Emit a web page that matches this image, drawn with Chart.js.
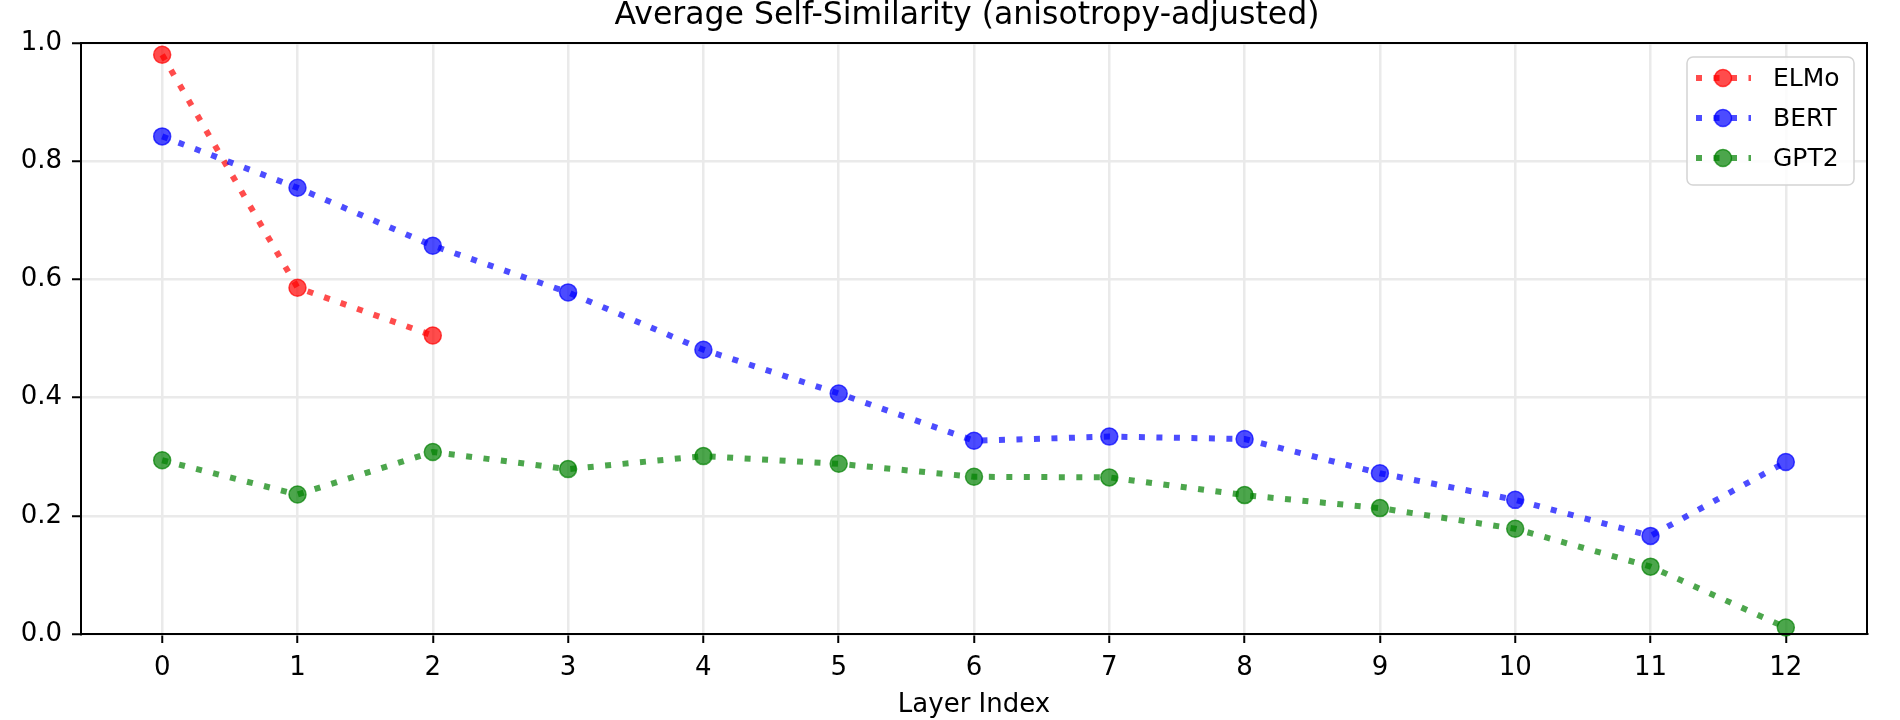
<!DOCTYPE html>
<html>
<head>
<meta charset="utf-8">
<title>Average Self-Similarity</title>
<script src="https://cdn.jsdelivr.net/npm/chart.js@4.4.1/dist/chart.umd.min.js"></script>
<style>
    html, body { margin: 0; padding: 0; background: #fff; }
    #wrap { width: 1900px; height: 720px; }
</style>
</head>
<body>
<div id="wrap"><canvas id="selfSimChart" width="1900" height="720"></canvas></div>
<script>
// DATA
const layers = [0, 1, 2, 3, 4, 5, 6, 7, 8, 9, 10, 11, 12];
const yTicks = [0.0, 0.2, 0.4, 0.6, 0.8, 1.0];
const elmoValues = [0.980, 0.586, 0.505];
const bertValues = [0.842, 0.755, 0.657, 0.578, 0.481, 0.407, 0.327, 0.334, 0.330, 0.272, 0.227, 0.166, 0.291];
const gpt2Values = [0.294, 0.236, 0.308, 0.279, 0.301, 0.288, 0.266, 0.265, 0.235, 0.213, 0.178, 0.114, 0.011];
const seriesNames = ['ELMo', 'BERT', 'GPT2'];
const seriesColors = ['rgba(255,0,0,0.7)', 'rgba(0,0,255,0.7)', 'rgba(0,128,0,0.7)'];
const chartTitle = 'Average Self-Similarity (anisotropy-adjusted)';

const FONT = "'DejaVu Sans', 'Liberation Sans', sans-serif";
const LINE_W = 6;
const DASH = [6, 11.5];

function toPoints(values) {
    return values.map((v, i) => ({ x: layers[i], y: v }));
}

function makeDataset(idx, values, order) {
    return {
        label: seriesNames[idx],
        data: toPoints(values),
        borderColor: seriesColors[idx],
        backgroundColor: seriesColors[idx],
        pointBackgroundColor: seriesColors[idx],
        pointBorderColor: seriesColors[idx],
        pointBorderWidth: 1.5,
        pointRadius: 8.5,
        borderWidth: LINE_W,
        borderDash: DASH,
        borderCapStyle: 'butt',
        tension: 0,
        clip: false,
        order: order
    };
}

// frame round the plot (matplotlib spines) + title centred over the axes
const framePlugin = {
    id: 'frame',
    afterDatasetsDraw(chart) {
        const { ctx, chartArea: a } = chart;
        ctx.save();
        ctx.strokeStyle = '#000';
        ctx.lineWidth = 2;
        ctx.strokeRect(a.left, a.top, a.right - a.left, a.bottom - a.top);
        ctx.fillStyle = '#000';
        ctx.font = '31.5px ' + FONT;
        ctx.textAlign = 'center';
        ctx.textBaseline = 'middle';
        ctx.fillText(chartTitle, (a.left + a.right) / 2 - 7, 15.5);
        ctx.restore();
    }
};

// legend box drawn like matplotlib's (line + marker handle)
const legendPlugin = {
    id: 'mplLegend',
    afterDraw(chart) {
        const { ctx } = chart;
        const box = { x: 1687, y: 57, w: 167, h: 128 };
        ctx.save();
        ctx.beginPath();
        ctx.roundRect(box.x, box.y, box.w, box.h, 6);
        ctx.fillStyle = 'rgba(255,255,255,0.85)';
        ctx.fill();
        ctx.strokeStyle = '#d4d4d4';
        ctx.lineWidth = 1.5;
        ctx.stroke();

        chart.data.datasets.forEach((ds, i) => {
            const y = 78 + i * 40;
            ctx.strokeStyle = ds.borderColor;
            ctx.lineWidth = LINE_W;
            ctx.setLineDash(DASH);
            ctx.beginPath();
            ctx.moveTo(1696, y);
            ctx.lineTo(1751, y);
            ctx.stroke();
            ctx.setLineDash([]);
            ctx.beginPath();
            ctx.arc(1723, y, 8.5, 0, Math.PI * 2);
            ctx.fillStyle = ds.pointBackgroundColor;
            ctx.fill();
            ctx.lineWidth = 1.5;
            ctx.stroke();
            ctx.fillStyle = '#000';
            ctx.font = '25px ' + FONT;
            ctx.textAlign = 'left';
            ctx.textBaseline = 'middle';
            ctx.fillText(ds.label, 1773, y + 1);
        });
        ctx.restore();
    }
};

const ctx = document.getElementById('selfSimChart').getContext('2d');
const chart = new Chart(ctx, {
    type: 'line',
    data: {
        datasets: [
            makeDataset(0, elmoValues, 2),
            makeDataset(1, bertValues, 1),
            makeDataset(2, gpt2Values, 0)
        ]
    },
    options: {
        responsive: false,
        animation: false,
        devicePixelRatio: 1,
        layout: { padding: { left: 0, right: 33, top: 43, bottom: 0 } },
        plugins: {
            legend: { display: false },
            tooltip: { enabled: false },
            title: { display: false }
        },
        scales: {
            x: {
                type: 'linear',
                min: -0.6,
                max: 12.6,
                afterBuildTicks: s => { s.ticks = layers.map(v => ({ value: v })); },
                afterFit: s => { s.height = 86; },
                ticks: {
                    color: '#000',
                    font: { family: FONT, size: 26 },
                    padding: 10,
                    maxRotation: 0,
                    autoSkip: false,
                    callback: v => String(v)
                },
                grid: { color: '#eaeaea', lineWidth: 2.5, tickColor: '#000', tickWidth: 2, tickLength: 9 },
                border: { color: '#000', width: 2 },
                title: {
                    display: true,
                    text: 'Layer Index',
                    color: '#000',
                    font: { family: FONT, size: 26, lineHeight: 1.1 },
                    padding: { top: 0, bottom: 0 }
                }
            },
            y: {
                type: 'linear',
                min: 0,
                max: 1,
                afterBuildTicks: s => { s.ticks = yTicks.map(v => ({ value: v })); },
                afterFit: s => { s.width = 81; },
                ticks: {
                    color: '#000',
                    font: { family: FONT, size: 26 },
                    padding: 10,
                    callback: v => Number(v).toFixed(1)
                },
                grid: { color: '#eaeaea', lineWidth: 2.5, tickColor: '#000', tickWidth: 2, tickLength: 9 },
                border: { color: '#000', width: 2 }
            }
        }
    },
    plugins: [framePlugin, legendPlugin]
});
</script>
</body>
</html>
